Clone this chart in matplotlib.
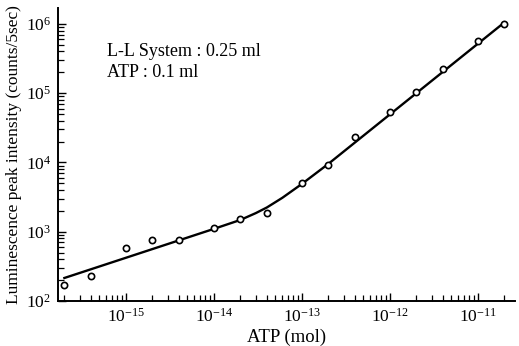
import numpy as np
import matplotlib
matplotlib.use('Agg')
import matplotlib.pyplot as plt
from matplotlib.ticker import LogLocator, NullFormatter

plt.rcParams['font.family'] = ['Liberation Serif', 'DejaVu Serif']
plt.rcParams['mathtext.fontset'] = 'stix'

# ATP amount (mol) and measured luminescence peak intensity (counts/5sec)
atp_mol = [2e-16, 4e-16, 1e-15, 2e-15, 4e-15, 1e-14, 2e-14, 4e-14,
           1e-13, 2e-13, 4e-13, 1e-12, 2e-12, 4e-12, 1e-11, 2e-11]
intensity = [170, 230, 575, 755, 770, 1120, 1510, 1850,
             5100, 9300, 2.3e4, 5.3e4, 1.03e5, 2.2e5, 5.7e5, 1.0e6]

# hand-drawn fitted curve
curve_x = [2e-16, 1e-14, 2e-14, 3e-14, 4e-14, 6e-14, 1e-13, 2e-13, 2e-11]
curve_y = [215, 1100, 1480, 1860, 2240, 3090, 4900, 9550, 1.05e6]

x_ticks = [1e-15, 1e-14, 1e-13, 1e-12, 1e-11]
y_ticks = [1e2, 1e3, 1e4, 1e5, 1e6]

fig = plt.figure(figsize=(5.19, 3.46), dpi=100)
ax = fig.add_axes([0.112, 0.130, 0.88, 0.847])

ax.plot(curve_x, curve_y, color='black', lw=1.7, zorder=2)
ax.plot(atp_mol, intensity, 'o', ms=4.5, mfc='white', mec='black', mew=1.2, zorder=3)

ax.set_xscale('log')
ax.set_yscale('log')
ax.set_xticks(x_ticks)
ax.set_yticks(y_ticks)
ax.set_xlim(10**-15.77, 10**-10.58)
ax.set_ylim(1e2, 10**6.23)

ax.spines['top'].set_visible(False)
ax.spines['right'].set_visible(False)
ax.spines['left'].set_linewidth(1.4)
ax.spines['bottom'].set_linewidth(1.4)

ax.xaxis.set_minor_locator(LogLocator(base=10, subs=np.arange(2, 10), numticks=20))
ax.yaxis.set_minor_locator(LogLocator(base=10, subs=np.arange(2, 10), numticks=20))
ax.xaxis.set_minor_formatter(NullFormatter())
ax.yaxis.set_minor_formatter(NullFormatter())

ax.tick_params(which='major', direction='in', length=6, width=1.0, labelsize=12.5, pad=5)
ax.tick_params(which='minor', direction='in', length=4, width=0.9)

ax.set_xlabel('ATP (mol)', fontsize=13.5, labelpad=2)
ax.set_ylabel('Luminescence peak intensity (counts/5sec)', fontsize=12.5, labelpad=3)

ax.text(0.107, 0.835, 'L-L System : 0.25 ml', transform=ax.transAxes, fontsize=13)
ax.text(0.107, 0.765, 'ATP : 0.1 ml', transform=ax.transAxes, fontsize=13)

fig.savefig('out.png', dpi=100)
